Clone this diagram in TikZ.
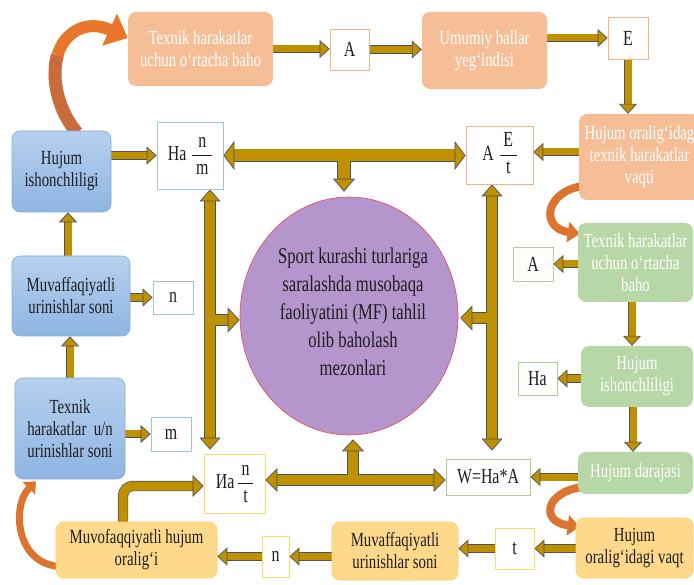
\documentclass[tikz,border=0pt]{standalone}
\usepackage{fontspec}
\setmainfont{Liberation Serif}[FakeStretch=0.74]
\usetikzlibrary{arrows.meta,shapes.geometric,backgrounds,calc}
\definecolor{sal}{HTML}{F5BE97}
\definecolor{salB}{HTML}{F4B183}
\definecolor{blT}{HTML}{B6D0EE}
\definecolor{blB}{HTML}{8FB5E2}
\definecolor{blD}{HTML}{83AADB}
\definecolor{blL}{HTML}{9DC3E6}
\definecolor{grn}{HTML}{B7D7A6}
\definecolor{grnB}{HTML}{A9D18E}
\definecolor{yel}{HTML}{FFD98B}
\definecolor{yelB}{HTML}{FFCC5C}
\definecolor{yelL}{HTML}{FFD966}
\definecolor{purp}{HTML}{B495CC}
\definecolor{redB}{HTML}{E8485A}
\definecolor{gold}{HTML}{BF9000}
\definecolor{outl}{HTML}{4A5160}
\definecolor{orng}{HTML}{E8772A}
\definecolor{orngD}{HTML}{C96B3A}
\definecolor{orngM}{HTML}{DC7430}
\definecolor{txt}{HTML}{1E1E1E}
\newcommand\myboxfont{\fontsize{20}{22}\selectfont}
\newcommand\mycircfont{\fontsize{22.5}{28}\selectfont}
\newcommand\mylettfont{\fontsize{21.5}{24}\selectfont}
\newcommand\myfr[2]{\begingroup\renewcommand\arraystretch{1.1}\setlength\arrayrulewidth{0.8pt}\begin{tabular}{@{\,}c@{\,}}#1\\\hline#2\end{tabular}\endgroup}
\tikzset{
  sz/.style 2 args={minimum width=#1pt, minimum height=#2pt},
  sbox/.style={rounded corners=8pt, inner sep=0pt, align=center, font=\myboxfont},
  salbox/.style={sbox, fill=sal, text=white},
  blubox/.style={sbox, top color=blT, bottom color=blB, draw=blD, line width=0.6pt, text=txt},
  grnbox/.style={sbox, fill=grn, text=white},
  yelbox/.style={sbox, fill=yel, draw=yelB, line width=0.6pt, text=txt},
  lbox/.style={draw=#1, fill=white, line width=0.8pt, inner sep=0pt, font=\mylettfont, text=txt},
  blk/.style n args={3}{draw=gold, line width=#1,
    arrows={-{Triangle[width=#2,length=#3,fill=gold,color=outl,line width=0.7pt]}},
    preaction={draw=outl, line width=#1+1.4pt, arrows=-, shorten >=#3-0.5pt}},
  dblk/.style n args={3}{draw=gold, line width=#1,
    arrows={{Triangle[width=#2,length=#3,fill=gold,color=outl,line width=0.7pt]}-{Triangle[width=#2,length=#3,fill=gold,color=outl,line width=0.7pt]}},
    preaction={draw=outl, line width=#1+1.4pt, arrows=-, shorten >=#3-0.5pt, shorten <=#3-0.5pt}},
  sarr/.style={blk={7pt}{18pt}{10pt}},
  carr/.style n args={4}{draw=#4, line width=#1, arrows={-{Triangle[width=#2,length=#3]}}},
}
\begin{document}
\begin{tikzpicture}[x=1pt, y=-1pt]
\useasboundingbox (0,0) rectangle (694,585);
\clip (0,0) rectangle (694,585);
% top row
\node[salbox, sz={145}{74}] (T1) at (200.5,49) {Texnik harakatlar\\uchun o‘rtacha baho};
\node[lbox=salB, sz={39}{41}] (A1) at (349.5,49.5) {A};
\node[salbox, sz={125}{77}] (UM) at (484.5,50.5) {Umumiy ballar\\yeg‘indisi};
\node[lbox=salB, sz={40}{42}] (E1) at (628,38) {E};
\node[salbox, sz={121}{86}] (HO) at (639.5,157) {Hujum oralig‘idag\\texnik harakatlar\\vaqti};
\node[lbox=salB, sz={67}{58}] (AEt) at (499.5,155) {A\;\myfr{E}{t}};
\node[lbox=blL, sz={66}{67}] (HNM) at (190,155.5) {Ha\;\myfr{n}{m}};
% left column
\node[blubox, sz={99}{81}] (HB) at (61.5,171.5) {Hujum\\ishonchliligi};
\node[blubox, sz={118}{80}] (MB) at (71,296) {Muvaffaqiyatli\\urinishlar soni};
\node[lbox=blL, sz={40}{33}] (nB) at (173,297.5) {n};
\node[blubox, sz={110}{101}] (TB) at (70,428.5) {Texnik\\harakatlar~ u/n\\urinishlar soni};
\node[lbox=blL, sz={40}{34}] (mB) at (171,434) {m};
% centre
\node[ellipse, fill=purp, draw=redB, line width=0.6pt, minimum width=218pt, minimum height=238pt, inner sep=0pt] (C) at (349,316) {};
\node[font=\mycircfont, align=center, text=txt] (CT) at (353,312) {Sport kurashi turlariga\\saralashda musobaqa\\faoliyatini (MF) tahlil\\olib baholash\\mezonlari};
% right column
\node[grnbox, sz={115}{79}] (GT) at (635.5,262.5) {Texnik harakatlar\\uchun o‘rtacha\\baho};
\node[lbox=grnB, sz={40}{34}] (GA) at (533,264) {A};
\node[grnbox, sz={112}{61}] (GH) at (637,376.5) {Hujum\\ishonchliligi};
\node[lbox=grnB, sz={39}{33}] (GHa) at (537.5,378.5) {Ha};
\node[grnbox, sz={115}{42}] (HD) at (635.5,473) {Hujum darajasi};
\node[lbox=grnB, sz={84}{36}] (W) at (488,477) {W=Ha*A};
% bottom row
\node[lbox=yelL, sz={61}{59}] (IA) at (234.5,483.5) {Иa\,\myfr{n}{t}};
\node[yelbox, sz={161}{56}] (MH) at (136.5,550) {Muvofaqqiyatli hujum\\oralig‘i};
\node[lbox=yelL, sz={27}{41}] (nBot) at (275.5,556.5) {n};
\node[yelbox, sz={126}{58}] (MBot) at (395,551) {Muvaffaqiyatli\\urinishlar soni};
\node[lbox=yelL, sz={39}{41}] (tB) at (514.5,548.5) {t};
\node[yelbox, sz={117}{60}] (HV) at (634.5,548) {Hujum\\oralig‘idagi vaqt};
% helper coordinates
\coordinate (vx1) at (68,0);
\coordinate (vx3) at (633,0);
\coordinate (vx4) at (632,0);
\coordinate (lx) at (210,0);
\coordinate (rx) at (492,0);
\coordinate (by) at (0,480);
\coordinate (ts) at (344,161);
\coordinate (lb) at (215,320);
\coordinate (rb) at (487,318);
\coordinate (bs) at (353,475);
\coordinate (ca) at (123,486);
\coordinate (o1m) at (57.5,55.1);
\begin{pgfonlayer}{background}
\fill[white] (0,0) rectangle (694,585);
% small arrows
\draw[sarr] (T1.east) -- (T1.east -| A1.west);
\draw[sarr] (A1.east) -- (A1.east -| UM.west);
\draw[sarr] (UM.east |- E1.west) -- (E1.west);
\draw[sarr] (E1.south) -- (E1.south |- HO.north);
\draw[sarr] ([yshift=5pt]HO.west) -- ([yshift=5pt]HO.west -| AEt.east);
\draw[sarr] (HB.east |- HNM.west) -- (HNM.west);
\draw[sarr] (vx1 |- MB.north) -- (vx1 |- HB.south);
\draw[sarr] (MB.east |- nB.west) -- (nB.west);
\draw[sarr] (TB.north) -- (TB.north |- MB.south);
\draw[sarr] (TB.east |- mB.west) -- (mB.west);
\draw[sarr] (nBot.west) -- (nBot.west -| MH.east);
\draw[sarr] (MBot.west |- nBot.east) -- (nBot.east);
\draw[sarr] (tB.west) -- (tB.west -| MBot.east);
\draw[sarr] (HV.west |- tB.east) -- (tB.east);
\draw[sarr] (HD.west |- W.east) -- (W.east);
\draw[sarr] (vx3 |- GH.south) -- (vx3 |- HD.north);
\draw[sarr] (vx4 |- GT.south) -- (vx4 |- GH.north);
\draw[sarr] (GT.west |- GA.east) -- (GA.east);
\draw[sarr] (GH.west |- GHa.east) -- (GHa.east);
% big arrows
\draw[dblk={12pt}{29pt}{11pt}] (HNM.east) -- (HNM.east -| AEt.west);
\draw[blk={12pt}{22pt}{13pt}] (ts) -- ($(ts |- C.north)+(0,-5)$);
\draw[dblk={10pt}{21pt}{12pt}] (lx |- HNM.south) -- ($(lx |- IA.north)+(0,-4)$);
\draw[blk={10pt}{25pt}{12pt}] (lb) -- (lb -| C.west);
\draw[dblk={10pt}{21pt}{12pt}] (rx |- AEt.south) -- ($(rx |- W.north)+(0,-8)$);
\draw[blk={10pt}{25pt}{12pt}] (rb) -- ($(rb -| C.east)+(2,0)$);
\draw[dblk={10pt}{24pt}{12pt}] (IA.east |- by) -- (W.west |- by);
\draw[blk={10pt}{22pt}{12pt}] (bs) -- ($(bs |- C.south)+(0,4)$);
\draw[blk={9pt}{22pt}{11pt}, rounded corners=10pt] (ca |- MH.north) -- (ca) -- (ca -| IA.west);
% curved orange arrows
\draw[draw=orngD, line width=13pt] ($(HB.north)+(15.5,2)$) .. controls (58.5,111.5) and (50.5,78.25) .. (o1m);
\draw[carr={12pt}{34pt}{20pt}{orng}] (o1m) .. controls (64.5,32) and (86.5,19) .. ($(T1.west)+(0,-11)$);
\draw[carr={8pt}{20pt}{12pt}{orngM}] ($(HO.south west)+(3,-14)$) .. controls (545,192) and (540,228) .. ($(GT.north west)+(2,11)$);
\draw[carr={8pt}{20pt}{12pt}{orngM}] ($(HD.south west)+(4,-7)$) .. controls (545,492) and (540,522) .. ($(HV.north west)+(4,9)$);
\draw[carr={7pt}{17pt}{10pt}{orngM}] ($(MH.south west)+(2,-12)$) .. controls (15,562) and (12,505) .. ($(TB.south)+(-34,2)$);
\end{pgfonlayer}
\end{tikzpicture}
\end{document}
